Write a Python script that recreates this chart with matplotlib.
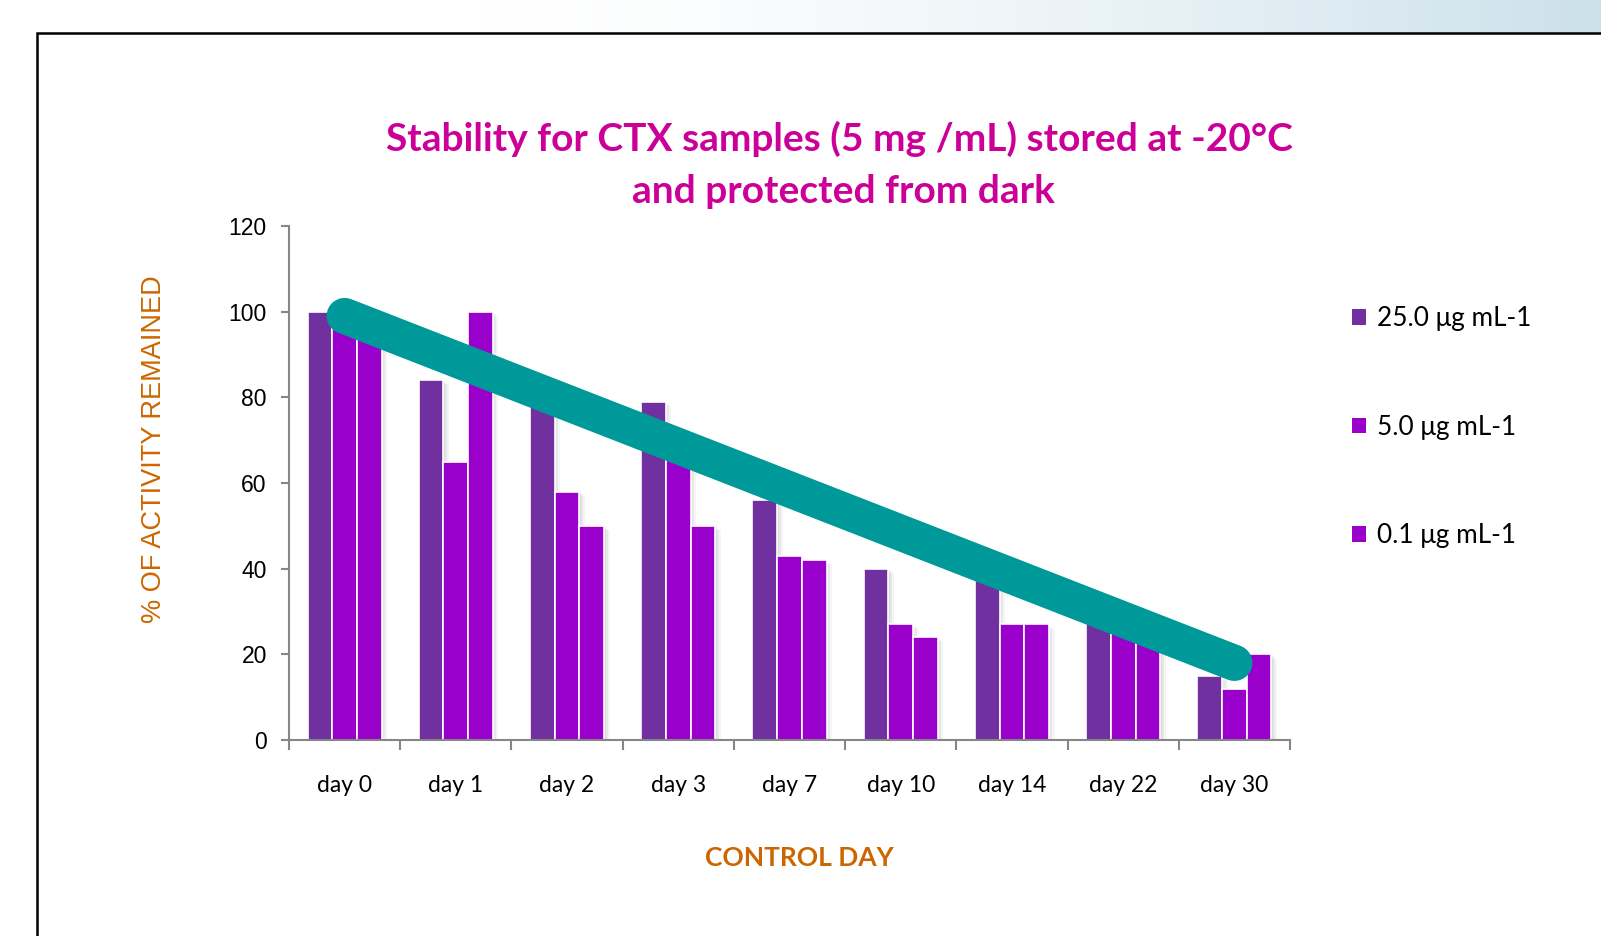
import matplotlib
matplotlib.use('Agg')
import matplotlib.pyplot as plt
import numpy as np
from matplotlib import patheffects as pe
from matplotlib.patches import Rectangle

days = ['day 0', 'day 1', 'day 2', 'day 3', 'day 7', 'day 10', 'day 14', 'day 22', 'day 30']
conc_25 = [100, 84, 80, 79, 56, 40, 40, 33, 15]
conc_5 = [100, 65, 58, 70, 43, 27, 27, 27, 12]
conc_01 = [100, 100, 50, 50, 42, 24, 27, 25, 20]
series_labels = ['25.0 μg mL-1', '5.0 μg mL-1', '0.1 μg mL-1']
series_colors = ['#7030A0', '#9900CC', '#9900CC']
trend_x = [0, 8]
trend_y = [99, 18]
yticks = [0, 20, 40, 60, 80, 100, 120]

W, H = 1601, 936
fig = plt.figure(figsize=(W / 100, H / 100), dpi=100)

# top decorative gradient band
bg = fig.add_axes([0, 1 - 34 / H, 1, 34 / H], zorder=-10)
grad = np.linspace(0, 1, 512)
grad = np.clip((grad - 0.3) / 0.7, 0, 1) ** 1.5
rgb = np.ones((1, 512, 3))
target = np.array([0.80, 0.88, 0.92])
rgb[0] = 1 - grad[:, None] * (1 - target)
bg.imshow(rgb, aspect='auto', extent=[0, 1, 0, 1])
bg.axis('off')

# frame
fig.patches.append(Rectangle((37 / W, -0.05), 1.2, (H - 33) / H + 0.05,
                             transform=fig.transFigure, fill=True,
                             fc='white', ec='black', lw=1.8, zorder=-5))

ax = fig.add_axes([289 / W, 1 - 740 / H, 1001 / W, 514 / H])
ax.set_facecolor('none')
x = np.arange(len(days))
w = 1 / 4.5
shadow = [pe.SimplePatchShadow(offset=(1, -1), shadow_rgbFace='#888888', alpha=0.14),
          pe.SimplePatchShadow(offset=(2.5, -2), shadow_rgbFace='#888888', alpha=0.12),
          pe.SimplePatchShadow(offset=(4, -3), shadow_rgbFace='#888888', alpha=0.08),
          pe.Normal()]
for i, (vals, lab, col) in enumerate(zip([conc_25, conc_5, conc_01], series_labels, series_colors)):
    bars = ax.bar(x + (i - 1) * w, vals, width=w, color=col, edgecolor='white',
                  linewidth=1.2, label=lab, zorder=2)
    for b in bars:
        b.set_path_effects(shadow)

ax.plot(trend_x, trend_y, color='#009999', lw=26, solid_capstyle='round', zorder=5)

ax.set_xlim(-0.5, len(days) - 0.5)
ax.set_ylim(0, 120)
ax.set_yticks(yticks)
ax.set_yticklabels([str(v) for v in yticks], family='Liberation Sans', fontsize=16.5)
ax.set_xticks(x)
ax.set_xticklabels(days, family='Lato', fontsize=16.5)
ax.set_xticks(np.arange(-0.5, len(days)), minor=True)
ax.tick_params(axis='x', which='major', length=0, pad=25)
ax.tick_params(axis='x', which='minor', length=7, color='#868686', width=1.5)
ax.tick_params(axis='y', length=6, color='#868686', width=1.5, pad=10)
for s in ['top', 'right']:
    ax.spines[s].set_visible(False)
for s in ['left', 'bottom']:
    ax.spines[s].set_color('#868686')
    ax.spines[s].set_linewidth(1.5)

fig.text(839 / W, 1 - 139 / H, 'Stability for CTX samples (5 mg /mL) stored at -20°C',
         ha='center', va='center', family='Lato', fontweight='bold', fontsize=28, color='#CC0099')
fig.text(843 / W, 1 - 192 / H, 'and protected from dark',
         ha='center', va='center', family='Lato', fontweight='bold', fontsize=28, color='#CC0099')

fig.text(154 / W, 1 - 449 / H, '% OF ACTIVITY REMAINED', rotation=90, ha='center', va='center',
         family='Liberation Sans', fontsize=19.5, color='#CC6600')
fig.text(799 / W, 1 - 858 / H, 'CONTROL DAY', ha='center', va='center',
         family='Lato', fontweight='bold', fontsize=19, color='#CC6600')

handles, labels = ax.get_legend_handles_labels()
leg = fig.legend(handles, labels, loc='upper left', bbox_to_anchor=(1339 / W, 1 - 293 / H),
                 frameon=False, prop={'family': 'Lato', 'size': 18.8}, handlelength=0.55,
                 handleheight=0.55, handletextpad=0.4, labelspacing=3.2, borderpad=0)
for h in leg.legend_handles:
    h.set_path_effects([])
    h.set_edgecolor('none')

fig.savefig('out.png', dpi=100)
